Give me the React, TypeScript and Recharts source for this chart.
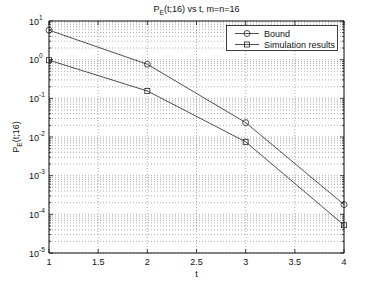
import { LineChart, Line, XAxis, YAxis, CartesianGrid, ReferenceArea, Legend, Label } from "recharts"

const T = [1, 2, 3, 4]
const BOUND = [5.8, 0.76, 0.0236, 0.000179]
const SIMULATION = [0.97, 0.155, 0.0075, 0.0000525]
const X_TICKS = [1, 1.5, 2, 2.5, 3, 3.5, 4]
const DECADES = [1e-5, 1e-4, 1e-3, 1e-2, 1e-1, 1, 10]
const MINOR = [2, 3, 4, 5, 6, 7, 8, 9]

const Y_TICKS = [...DECADES, ...DECADES.slice(0, -1).flatMap((d) => MINOR.map((m) => m * d))]

const data = T.map((t, i) => ({ t, bound: BOUND[i], sim: SIMULATION[i] }))

const FONT = "'Liberation Sans', Arial, Helvetica, sans-serif"
const INK = "#111"
const LEFT = 49
const RIGHT = 344
const TOP = 21
const BOTTOM = 253

const XTick = (props: any) => {
  const { x, payload } = props
  return (
    <g>
      <line x1={x} x2={x} y1={BOTTOM} y2={BOTTOM - 4} stroke={INK} strokeWidth={0.8} />
      <line x1={x} x2={x} y1={TOP} y2={TOP + 4} stroke={INK} strokeWidth={0.8} />
      <text x={x} y={265} textAnchor="middle" fontFamily={FONT} fontSize={9} fill={INK}>
        {payload.value}
      </text>
    </g>
  )
}

const YTick = (props: any) => {
  const { y, payload } = props
  const v = payload.value
  const major = DECADES.includes(v)
  const len = major ? 4 : 2
  const exp = Math.round(Math.log10(v))
  return (
    <g>
      <line x1={LEFT} x2={LEFT + len} y1={y} y2={y} stroke={INK} strokeWidth={0.8} />
      <line x1={RIGHT} x2={RIGHT - len} y1={y} y2={y} stroke={INK} strokeWidth={0.8} />
      {major && (
        <text y={y + 3.5} fontFamily={FONT} fontSize={9} fill={INK}>
          <tspan x={29}>10</tspan>
          <tspan dy={-5} fontSize={6.5}>{exp}</tspan>
        </text>
      )}
    </g>
  )
}

const CircleDot = (props: any) => {
  const { cx, cy, index } = props
  return <circle key={`c-${index}`} cx={cx} cy={cy} r={3} fill="none" stroke="#222" strokeWidth={0.8} />
}

const SquareDot = (props: any) => {
  const { cx, cy, index } = props
  return <rect key={`s-${index}`} x={cx - 2.5} y={cy - 2.5} width={5} height={5} fill="none" stroke="#222" strokeWidth={0.8} />
}

const TitleLabel = (props: any) => {
  const vb = props.viewBox
  const cx = vb.x + vb.width / 2
  return (
    <text x={cx} y={12} textAnchor="middle" fontFamily={FONT} fontSize={9} fill={INK}>
      P<tspan dy={2.5} fontSize={6.5}>E</tspan>
      <tspan dy={-2.5}>(t;16) vs t, m=n=16</tspan>
    </text>
  )
}

const YLabel = () => {
  const cy = TOP + (BOTTOM - TOP) / 2
  const x = 19
  return (
    <text x={x} y={cy} transform={`rotate(-90 ${x} ${cy})`} textAnchor="middle" fontFamily={FONT} fontSize={9} fill={INK}>
      P<tspan dy={2.5} fontSize={6.5}>E</tspan>
      <tspan dy={-2.5}>(t;16)</tspan>
    </text>
  )
}

const LegendBox = (props: any) => {
  const items = props.payload || []
  return (
    <svg width={112} height={26} style={{ display: "block" }}>
      <rect x={0.5} y={0.5} width={111} height={25} fill="#fff" stroke={INK} strokeWidth={0.8} />
      {items.map((item: any, i: number) => {
        const y = 8.5 + i * 11
        return (
          <g key={item.value}>
            <line x1={9} x2={33} y1={y} y2={y} stroke="#222" strokeWidth={0.8} />
            {item.dataKey === "bound" ? (
              <circle cx={21} cy={y} r={3} fill="none" stroke="#222" strokeWidth={0.8} />
            ) : (
              <rect x={18.5} y={y - 2.5} width={5} height={5} fill="none" stroke="#222" strokeWidth={0.8} />
            )}
            <text x={38} y={y + 3.2} fontFamily={FONT} fontSize={9} fill={INK}>
              {item.value}
            </text>
          </g>
        )
      })}
    </svg>
  )
}

export default function App() {
  return (
    <div style={{ position: "absolute", left: 0, top: 0, width: 379, height: 285, background: "#fff" }}>
      <LineChart width={379} height={285} data={data} margin={{ top: TOP, right: 379 - RIGHT, left: 0, bottom: 0 }}>
        <CartesianGrid stroke="#999" strokeDasharray="1 2" strokeWidth={0.8} />
        <XAxis
          dataKey="t"
          type="number"
          domain={[1, 4]}
          ticks={X_TICKS}
          height={285 - BOTTOM}
          tick={<XTick />}
          tickLine={false}
          axisLine={false}
          interval={0}
        >
          <Label value="t" position="insideBottom" offset={8} style={{ fontFamily: FONT, fontSize: 9, fill: INK }} />
        </XAxis>
        <YAxis
          type="number"
          scale="log"
          domain={[1e-5, 10]}
          allowDataOverflow
          ticks={Y_TICKS}
          width={LEFT}
          tick={<YTick />}
          tickLine={false}
          axisLine={false}
          interval={0}
        >
          <Label content={<YLabel />} />
        </YAxis>
        <ReferenceArea x1={1} x2={4} y1={1e-5} y2={10} fill="none" stroke={INK} strokeWidth={1} label={<TitleLabel />} />
        <Line
          dataKey="bound"
          name="Bound"
          stroke="#222"
          strokeWidth={0.8}
          dot={<CircleDot />}
          isAnimationActive={false}
        />
        <Line
          dataKey="sim"
          name="Simulation results"
          stroke="#222"
          strokeWidth={0.8}
          dot={<SquareDot />}
          isAnimationActive={false}
        />
        <Legend
          layout="horizontal"
          verticalAlign="middle"
          align="center"
          content={<LegendBox />}
          wrapperStyle={{ left: 226, top: 25, width: 112, height: 26 }}
        />
      </LineChart>
    </div>
  )
}
